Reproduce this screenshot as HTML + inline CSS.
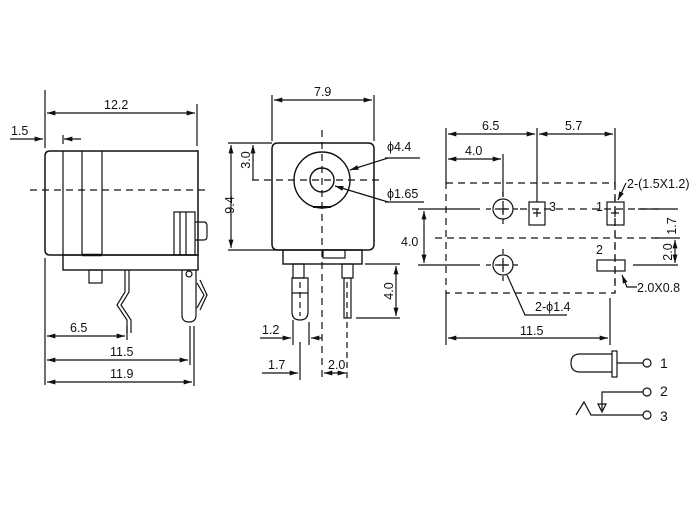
<!DOCTYPE html>
<html><head><meta charset="utf-8"><style>html,body{margin:0;padding:0;background:#fff}svg{display:block}</style></head>
<body>
<svg width="700" height="521" viewBox="0 0 700 521" xmlns="http://www.w3.org/2000/svg" font-family="Liberation Sans, sans-serif" font-size="12.5" fill="none" stroke="#111" stroke-width="1.2">
<defs>
<marker id="a" viewBox="0 0 10 6" refX="10" refY="3" markerWidth="9" markerHeight="5" orient="auto-start-reverse" markerUnits="userSpaceOnUse"><path d="M0,0 L10,3 L0,6z" fill="#111" stroke="none"/></marker>
</defs>
<!-- LEFT VIEW -->
<path d="M50,151 H198 V255 H50 Q45,255 45,250 V156 Q45,151 50,151 Z" stroke-width="1.5"/>
<line x1="63" y1="151" x2="63" y2="255"/>
<line x1="82" y1="151" x2="82" y2="255"/>
<line x1="102" y1="151" x2="102" y2="255"/>
<line x1="82" y1="255" x2="102" y2="255" stroke-width="2.5"/>
<rect x="63" y="255" width="135" height="15" stroke-width="1.4"/>
<rect x="174" y="212" width="21" height="43"/>
<line x1="180" y1="212" x2="180" y2="255"/><line x1="186" y1="212" x2="186" y2="255"/>
<path d="M195,222 H204 Q207,222 207,226 V236 Q207,240 204,240 H195"/>
<rect x="89" y="270" width="13" height="13"/>
<path d="M125,270 V292 L117,305 L127,320 V333 M129,270 V292 L121,305 L131,320 V333"/>
<path d="M182,270 V315 Q182,322 189,322 Q196,322 196,315 V270"/>
<circle cx="189" cy="274" r="3"/>
<path d="M197,283 L204,295 L197,308 M200,280 L207,295 L200,310"/>
<line x1="30" y1="190" x2="208" y2="190" stroke-dasharray="7,5"/>
<line x1="45" y1="90" x2="45" y2="148"/><line x1="197" y1="104" x2="197" y2="146"/>
<line x1="47" y1="113" x2="195" y2="113" marker-start="url(#a)" marker-end="url(#a)"/>
<line x1="10" y1="139" x2="43" y2="139" marker-end="url(#a)"/>
<line x1="63" y1="135" x2="63" y2="144"/>
<line x1="81" y1="139" x2="64" y2="139" marker-end="url(#a)"/>
<line x1="45" y1="258" x2="45" y2="385"/>
<line x1="127" y1="326" x2="127" y2="340"/>
<line x1="190" y1="326" x2="190" y2="365"/>
<line x1="194" y1="326" x2="194" y2="386"/>
<line x1="47" y1="336" x2="125" y2="336" marker-start="url(#a)" marker-end="url(#a)"/>
<line x1="47" y1="360" x2="188" y2="360" marker-start="url(#a)" marker-end="url(#a)"/>
<line x1="47" y1="382" x2="192" y2="382" marker-start="url(#a)" marker-end="url(#a)"/>
<!-- MIDDLE VIEW -->
<path d="M278,143 H368 Q374,143 374,149 V244 Q374,250 368,250 H278 Q272,250 272,244 V149 Q272,143 278,143 Z" stroke-width="1.5"/>
<circle cx="322" cy="180" r="28" stroke-width="1.4"/>
<circle cx="322" cy="180" r="12" stroke-width="1.4"/>
<line x1="313" y1="207" x2="331" y2="207" stroke-width="2"/>
<rect x="283" y="250" width="79" height="14" stroke-width="1.4"/>
<rect x="323" y="250" width="22" height="8"/>
<rect x="293" y="264" width="11" height="14"/>
<path d="M292,278 V312 Q292,320 300,320 Q308,320 308,312 V278 Z"/>
<line x1="292" y1="293" x2="308" y2="293"/>
<rect x="342" y="264" width="11" height="14"/>
<rect x="344" y="278" width="7" height="40"/>
<line x1="300" y1="282" x2="300" y2="316" stroke-dasharray="6,4"/>
<line x1="347" y1="282" x2="347" y2="380" stroke-dasharray="6,4"/>
<line x1="322" y1="130" x2="322" y2="380" stroke-dasharray="7,5"/>
<line x1="252" y1="180" x2="380" y2="180" stroke-dasharray="7,5"/>
<line x1="272" y1="95" x2="272" y2="141"/><line x1="374" y1="95" x2="374" y2="141"/>
<line x1="274" y1="100" x2="372" y2="100" marker-start="url(#a)" marker-end="url(#a)"/>
<line x1="228" y1="143" x2="272" y2="143"/><line x1="228" y1="250" x2="283" y2="250"/>
<line x1="231" y1="145" x2="231" y2="248" marker-start="url(#a)" marker-end="url(#a)"/>
<line x1="253" y1="145" x2="253" y2="180" marker-start="url(#a)"/>
<line x1="365" y1="264" x2="400" y2="264"/><line x1="356" y1="318" x2="400" y2="318"/>
<line x1="396" y1="266" x2="396" y2="316" marker-start="url(#a)" marker-end="url(#a)"/>
<line x1="385" y1="158" x2="420" y2="158"/>
<line x1="388" y1="158" x2="350" y2="170" marker-end="url(#a)"/>
<line x1="385" y1="202" x2="424" y2="202"/>
<line x1="388" y1="202" x2="335" y2="186" marker-end="url(#a)"/>
<line x1="293" y1="320" x2="293" y2="345"/><line x1="309" y1="322" x2="309" y2="345"/>
<line x1="260" y1="338" x2="291" y2="338" marker-end="url(#a)"/>
<line x1="322" y1="338" x2="311" y2="338" marker-end="url(#a)"/>
<line x1="300" y1="342" x2="300" y2="380"/>
<line x1="262" y1="373" x2="298" y2="373" marker-end="url(#a)"/>
<line x1="324" y1="373" x2="346" y2="373" marker-start="url(#a)" marker-end="url(#a)"/>
<!-- RIGHT VIEW -->
<rect x="446" y="183" width="169" height="110" stroke-dasharray="7,5"/>
<line x1="435" y1="238" x2="660" y2="238" stroke-dasharray="7,5"/>
<line x1="446" y1="128" x2="446" y2="183"/><line x1="446" y1="293" x2="446" y2="345"/>
<line x1="537" y1="128" x2="537" y2="202"/><line x1="615" y1="128" x2="615" y2="183"/>
<line x1="503" y1="154" x2="503" y2="197"/>
<line x1="448" y1="134" x2="535" y2="134" marker-start="url(#a)" marker-end="url(#a)"/>
<line x1="539" y1="134" x2="613" y2="134" marker-start="url(#a)" marker-end="url(#a)"/>
<line x1="448" y1="159" x2="501" y2="159" marker-start="url(#a)" marker-end="url(#a)"/>
<circle cx="503" cy="209" r="10"/><circle cx="503" cy="265" r="10"/>
<path d="M499,209 h8 M503,205 v8 M499,265 h8 M503,261 v8"/>
<line x1="486" y1="209" x2="520" y2="209" stroke-dasharray="5,4"/>
<line x1="486" y1="265" x2="520" y2="265" stroke-dasharray="5,4"/>
<line x1="503" y1="192" x2="503" y2="226" stroke-dasharray="5,4"/>
<line x1="503" y1="249" x2="503" y2="281" stroke-dasharray="5,4"/>
<rect x="529" y="202" width="16" height="23"/>
<rect x="607" y="202" width="17" height="23"/>
<rect x="597" y="260" width="28" height="11"/>
<path d="M533,213 h8 M537,209 v8 M611,213 h8 M615,209 v8"/>
<line x1="520" y1="209" x2="660" y2="209" stroke-dasharray="7,5"/>
<line x1="615" y1="183" x2="615" y2="293" stroke-dasharray="7,5"/>
<line x1="418" y1="209" x2="480" y2="209"/><line x1="418" y1="265" x2="480" y2="265"/>
<line x1="638" y1="209" x2="678" y2="209"/><line x1="633" y1="265" x2="678" y2="265"/>
<line x1="655" y1="238" x2="680" y2="238"/>
<line x1="424" y1="211" x2="424" y2="263" marker-start="url(#a)" marker-end="url(#a)"/>
<line x1="675" y1="240" x2="675" y2="263" marker-start="url(#a)" marker-end="url(#a)"/>
<line x1="610" y1="298" x2="610" y2="345"/>
<line x1="448" y1="338" x2="608" y2="338" marker-start="url(#a)" marker-end="url(#a)"/>
<path d="M626,183 L618,200" marker-end="url(#a)"/>
<path d="M637,287 H627 L622,275" marker-end="url(#a)"/>
<path d="M567,315 H525 L507,275"/>
<!-- SCHEMATIC -->
<path d="M612,354 H580 Q571,354 571,363 Q571,372 580,372 H612"/>
<rect x="612" y="351" width="5" height="26"/>
<line x1="617" y1="363" x2="643" y2="363"/>
<circle cx="647" cy="363" r="4"/>
<path d="M643,392 H602 V410"/>
<path d="M598,404 L606,404 L602,412 Z" fill="none"/>
<circle cx="647" cy="392" r="4"/>
<path d="M576,415 L584,402 L591,415 H643"/>
<circle cx="647" cy="415" r="4"/>
<g fill="#111" stroke="none">
<text x="104" y="109">12.2</text>
<text x="11" y="135">1.5</text>
<text x="70" y="332">6.5</text>
<text x="110" y="356">11.5</text>
<text x="110" y="378">11.9</text>
<text x="314" y="96">7.9</text>
<text x="387" y="151">ϕ4.4</text>
<text x="387" y="198">ϕ1.65</text>
<text transform="translate(234,205) rotate(-90)" text-anchor="middle">9.4</text>
<text transform="translate(250,160) rotate(-90)" text-anchor="middle">3.0</text>
<text transform="translate(393,291) rotate(-90)" text-anchor="middle">4.0</text>
<text x="262" y="334">1.2</text>
<text x="268" y="369">1.7</text>
<text x="328" y="369">2.0</text>
<text x="482" y="130">6.5</text>
<text x="565" y="130">5.7</text>
<text x="465" y="155">4.0</text>
<text x="401" y="246">4.0</text>
<text x="549" y="211">3</text>
<text x="596" y="211">1</text>
<text x="596" y="254">2</text>
<text x="627" y="188">2-(1.5X1.2)</text>
<text x="637" y="292">2.0X0.8</text>
<text x="535" y="311">2-ϕ1.4</text>
<text x="520" y="335">11.5</text>
<text transform="translate(676,226) rotate(-90)" text-anchor="middle">1.7</text>
<text transform="translate(672,252) rotate(-90)" text-anchor="middle">2.0</text>
<text x="660" y="368" font-size="14">1</text>
<text x="660" y="396" font-size="14">2</text>
<text x="660" y="421" font-size="14">3</text>
</g>
</svg>
</body></html>
